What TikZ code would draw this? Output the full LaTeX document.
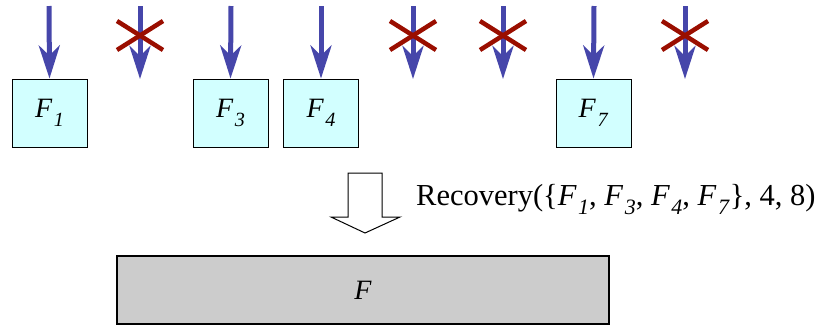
\documentclass[tikz,border=0pt]{standalone}
\usepackage{fontspec}
\setmainfont{Liberation Serif}
\usetikzlibrary{arrows.meta}
\definecolor{arrowblue}{HTML}{4646AA}
\definecolor{crossred}{HTML}{9A0E00}
\definecolor{boxcyan}{HTML}{D2FFFF}
\definecolor{boxgray}{HTML}{CCCCCC}
\newcommand{\Fsub}[1]{\textit{F}\kern1.5pt\raisebox{-0.32em}{\scalebox{0.72}{\textit{#1}}}}
\begin{document}
\begin{tikzpicture}[x=1pt,y=-1pt,
  fbox/.style={draw=black,line width=1pt,fill=boxcyan,minimum width=75pt,minimum height=68pt,inner sep=0pt,font=\fontsize{28}{30}\selectfont},
  inarrow/.style={draw=arrowblue,line width=5pt,-{Stealth[length=33pt,width=21pt,inset=10pt]}},
  crossline/.style={draw=crossred,line width=4.5pt},
  hollow/.style={draw=black,line width=1pt,fill=white},
  bigbox/.style={draw=black,line width=1.2pt,fill=boxgray,minimum width=492pt,minimum height=68pt,inner sep=0pt,font=\fontsize{28}{30}\selectfont}]
\useasboundingbox (0,0) rectangle (833,325);
% boxes
\node[fbox] (f1) at (49.5,113) {\Fsub{1}};
\node[fbox] (f3) at (230.5,113) {\Fsub{3}};
\node[fbox] (f4) at (321,113) {\Fsub{4}};
\node[fbox] (f7) at (593.5,113) {\Fsub{7}};
% arrow starts and free ends
\foreach \n/\x in {1/49,2/140,3/231,4/321,5/413,6/503,7/594,8/685}{
  \coordinate (s\n) at (\x,6);
  \coordinate (e\n) at (\x,79);
}
\draw[inarrow] (s1) -- (f1.north);
\draw[inarrow] (s2) -- (e2);
\draw[inarrow] (s3) -- (f3.north);
\draw[inarrow] (s4) -- (f4.north);
\draw[inarrow] (s5) -- (e5);
\draw[inarrow] (s6) -- (e6);
\draw[inarrow] (s7) -- (f7.north);
\draw[inarrow] (s8) -- (e8);
% crosses
\foreach \x in {140,413,503,685}{
  \draw[crossline] (\x-23,21) -- (\x+23,50);
  \draw[crossline] (\x-23,50) -- (\x+23,21);
}
% hollow arrow
\draw[hollow] (348,173) -- (382,173) -- (382,217) -- (400,217) -- (365,233) -- (331,217) -- (348,217) -- cycle;
\node[anchor=base west,inner sep=0pt,font=\fontsize{30.5}{32}\selectfont] (rec) at (416,205)
  {Recovery(\{\Fsub{1}, \Fsub{3}, \Fsub{4}, \Fsub{7}\}, 4, 8)};
% result box
\node[bigbox] (F) at (363,290) {\textit{F}};
\end{tikzpicture}
\end{document}
